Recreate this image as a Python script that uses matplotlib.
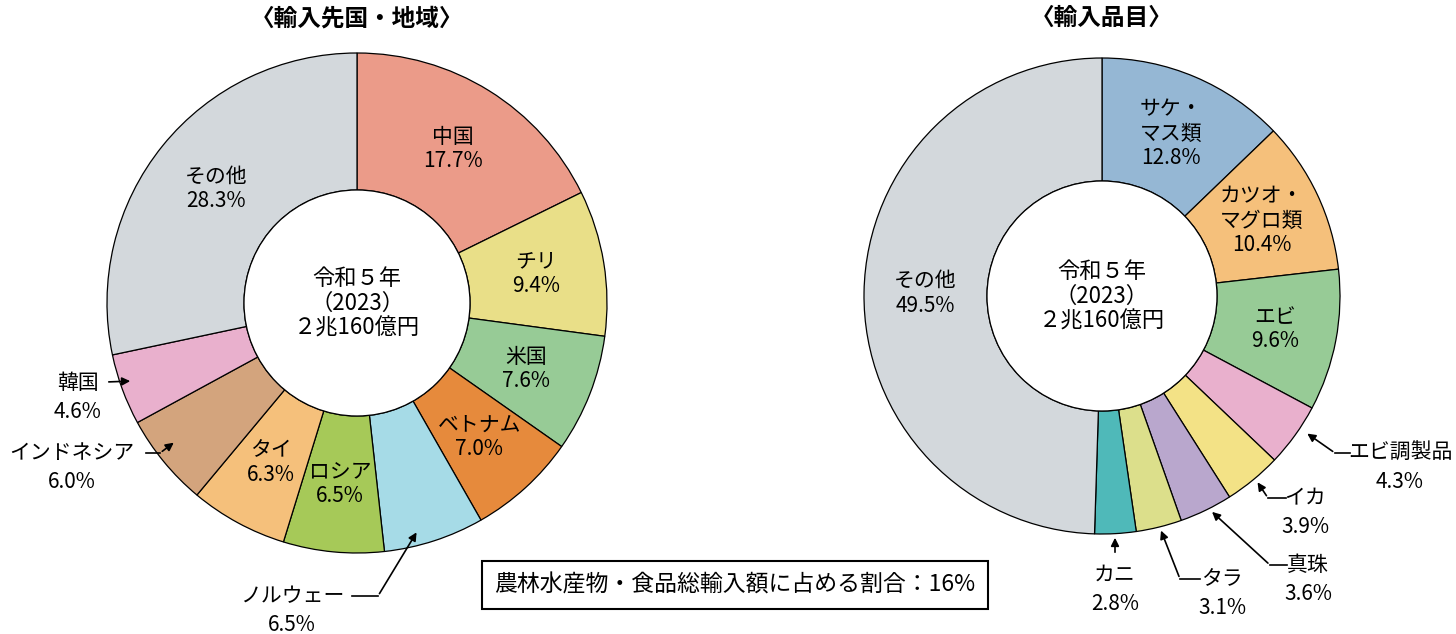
import numpy as np
import matplotlib.pyplot as plt

plt.rcParams["font.family"] = "Noto Sans CJK JP"

W, H = 1456, 634

left_names = ["中国", "チリ", "米国", "ベトナム", "ノルウェー", "ロシア", "タイ", "インドネシア", "韓国", "その他"]
left_vals = [17.7, 9.4, 7.6, 7.0, 6.5, 6.5, 6.3, 6.0, 4.6, 28.3]
left_colors = ["#eb9b89", "#e9df88", "#97cb96", "#e68a3c", "#a6dbe7", "#a6c958",
               "#f5c07b", "#d3a47d", "#e9b0cd", "#d3d8dc"]

right_names = ["サケ・\nマス類", "カツオ・\nマグロ類", "エビ", "エビ調製品", "イカ", "真珠", "タラ", "カニ", "その他"]
right_vals = [12.8, 10.4, 9.6, 4.3, 3.9, 3.6, 3.1, 2.8, 49.5]
right_colors = ["#95b7d4", "#f5c07b", "#97cb96", "#e9b0cd", "#f3e286", "#b9a7cd",
                "#dcdf8b", "#4fb9b9", "#d3d8dc"]

center_text = "令和５年\n（2023）\n２兆160億円"

fig = plt.figure(figsize=(W / 100, H / 100), dpi=100)
ax = fig.add_axes([0, 0, 1, 1])
ax.set_xlim(0, W)
ax.set_ylim(0, H)
ax.set_aspect("equal")
ax.axis("off")


def Y(py):
    return H - py


def donut(cx, cy, r, ri, vals, colors, names, inside, title):
    ax.pie(vals, colors=colors, center=(cx, Y(cy)), radius=r, startangle=90,
           counterclock=False, wedgeprops=dict(width=r - ri, edgecolor="black", linewidth=0.9),
           frame=True)
    ax.add_patch(plt.Circle((cx, Y(cy)), ri, facecolor="white", edgecolor="black", linewidth=0.9))
    total = sum(vals)
    ang = 90
    for name, v, ok in zip(names, vals, inside):
        mid = np.radians(ang - v / total * 180)
        ang -= v / total * 360
        if not ok:
            continue
        rr = (r + ri) / 2
        ax.text(cx + rr * np.cos(mid), Y(cy) + rr * np.sin(mid), f"{name}\n{v}%",
                ha="center", va="center", fontsize=15, linespacing=1.15)
    ax.text(cx, Y(cy), center_text, ha="center", va="center", fontsize=16, linespacing=1.1)
    ax.text(cx, Y(18), title, ha="center", va="center", fontsize=17, fontweight="bold")


donut(357, 303, 250, 113, left_vals, left_colors, left_names,
      [True, True, True, True, False, True, True, False, False, True], "〈輸入先国・地域〉")
donut(1102, 296, 238, 115, right_vals, right_colors, right_names,
      [True, True, True, False, False, False, False, False, True], "〈輸入品目〉")
ax.set_xlim(0, W)
ax.set_ylim(0, H)


def outside(label, val, tx, ty, path):
    ax.text(tx, Y(ty), label, ha="center", va="center", fontsize=15)
    ax.text(tx, Y(ty + 29), f"{val}%", ha="center", va="center", fontsize=15)
    pts = [(x, Y(y)) for x, y in path]
    for a, b in zip(pts[:-2], pts[1:-1]):
        ax.plot([a[0], b[0]], [a[1], b[1]], color="black", lw=1.2)
    ax.annotate("", xy=pts[-1], xytext=pts[-2],
                arrowprops=dict(arrowstyle="-|>", color="black", lw=1.2, mutation_scale=12))


outside("韓国", 4.6, 78, 383, [(106, 382), (133, 381)])
outside("インドネシア", 6.0, 72, 453, [(146, 453), (160, 453), (176, 441)])
outside("ノルウェー", 6.5, 292, 596, [(352, 596), (378, 596), (418, 530)])
outside("エビ調製品", 4.3, 1400, 453, [(1350, 453), (1335, 453), (1305, 432)])
outside("イカ", 3.9, 1305, 498, [(1286, 498), (1268, 498), (1256, 480)])
outside("真珠", 3.6, 1308, 565, [(1287, 565), (1270, 565), (1210, 510)])
outside("タラ", 3.1, 1222, 579, [(1200, 579), (1180, 579), (1160, 528)])
outside("カニ", 2.8, 1115, 575, [(1115, 555), (1115, 535)])

ax.text(735, Y(585), "農林水産物・食品総輸入額に占める割合：16%", ha="center", va="center", fontsize=16.5,
        bbox=dict(boxstyle="square,pad=0.55", facecolor="white", edgecolor="black", linewidth=1.5))

fig.savefig("out.png", dpi=100)
